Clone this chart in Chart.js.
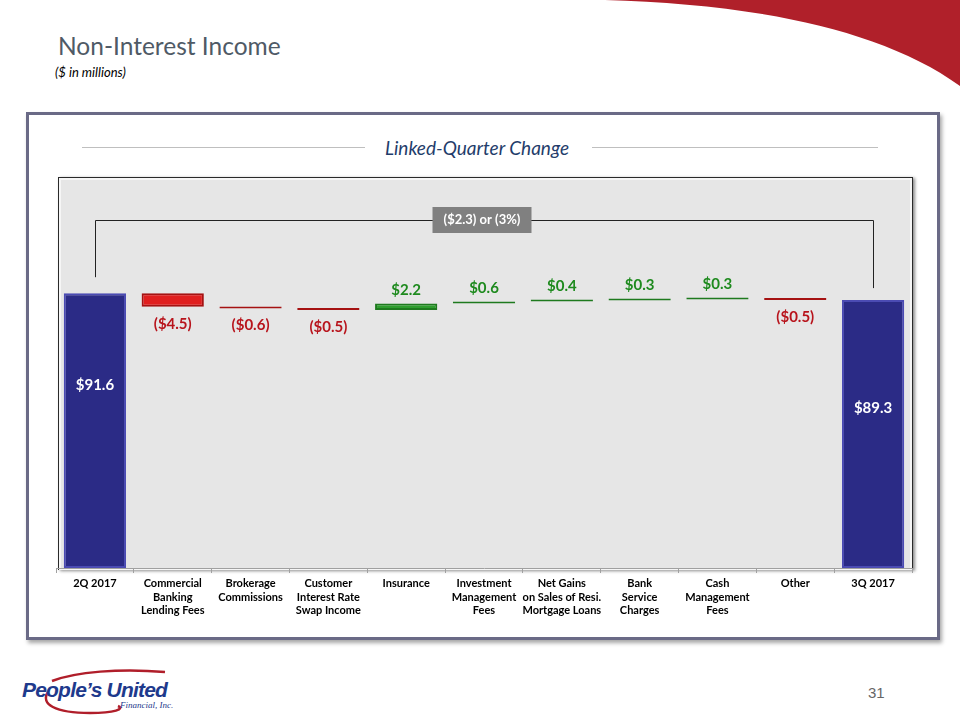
<!DOCTYPE html>
<html><head><meta charset="utf-8">
<script src="https://cdn.jsdelivr.net/npm/chart.js@4"></script>
<style>
html,body{margin:0;padding:0;width:960px;height:720px;overflow:hidden;background:#fff;font-family:Lato,"Open Sans",sans-serif;}
.abs{position:absolute;}
#title{left:58px;top:31px;font-size:24.5px;color:#4F5A66;font-family:Lato;}
#sub{left:55px;top:64px;font-size:13px;font-style:italic;color:#000;}
#panel{left:26px;top:112px;width:908px;height:522px;border:3px solid #6A6A86;box-shadow:2px 3px 4px rgba(0,0,0,0.35);background:#fff;}
#lqc{left:0;top:136px;width:954px;text-align:center;font-size:19px;font-style:italic;color:#1F3D6B;}
.hl{height:1px;background:#BFBFBF;top:147px;}
#gray{left:58px;top:177px;width:853px;height:392px;background:#E6E6E6;border:1px solid #2a2a2a;border-bottom:none;box-shadow:inset 0 0 0 2px #f6f6f6, 2px 1px 3px rgba(0,0,0,0.45);}
#pg{left:868px;top:684px;font-size:15px;color:#666;font-family:"Liberation Sans Narrow","Liberation Sans",sans-serif;}
#logo1{left:22px;top:678px;font-size:21px;font-weight:900;font-style:italic;color:#1E3A8C;letter-spacing:-0.8px;font-family:"Liberation Sans Narrow","Liberation Sans",sans-serif;}
#logo2{left:120px;top:700px;font-size:9px;font-style:italic;color:#1E3A8C;font-family:"Liberation Serif",serif;}
canvas{position:absolute;left:0;top:0;}
</style></head>
<body>
<svg class="abs" style="left:0;top:0" width="960" height="720">
  <path d="M605,0 C750,4 880,28 960,86 L960,0 Z" fill="#B0202A"/>
  <path d="M48,692 C40,704 55,713 90,713 C115,713 125,709 118,706" fill="none" stroke="#B01E2A" stroke-width="2.5"/>
  <path d="M52,681 C75,672 120,668 165,672" fill="none" stroke="#B01E2A" stroke-width="2.5"/>
</svg>
<div class="abs" id="title">Non-Interest Income</div>
<div class="abs" id="sub">($ in millions)</div>
<div class="abs" id="panel"></div>
<div class="abs hl" style="left:82px;width:283px"></div>
<div class="abs hl" style="left:592px;width:286px"></div>
<div class="abs" id="lqc">Linked-Quarter Change</div>
<div class="abs" id="gray"></div>
<div class="abs" id="logo1">People’s United</div>
<div class="abs" id="logo2">Financial, Inc.</div>
<div class="abs" id="pg">31</div>
<canvas id="c" width="960" height="720"></canvas>
<script>
const categories = [
  "2Q 2017",
  ["Commercial","Banking","Lending Fees"],
  ["Brokerage","Commissions"],
  ["Customer","Interest Rate","Swap Income"],
  "Insurance",
  ["Investment","Management","Fees"],
  ["Net Gains","on Sales of Resi.","Mortgage Loans"],
  ["Bank","Service","Charges"],
  ["Cash","Management","Fees"],
  "Other",
  "3Q 2017"
];
const startTotal = 91.6;
const changes = [-4.5, -0.6, -0.5, 2.2, 0.6, 0.4, 0.3, 0.3, -0.5];
const endTotal = 89.3;
const valueLabels = ["$91.6","($4.5)","($0.6)","($0.5)","$2.2","$0.6","$0.4","$0.3","$0.3","($0.5)","$89.3"];
const bracketLabel = "($2.3) or (3%)";

// build floating bars
const floats = [[0, startTotal]];
let run = startTotal;
changes.forEach(c => { const nxt = run + c; floats.push([Math.min(run,nxt), Math.max(run,nxt)]); run = nxt; });
floats.push([0, endTotal]);
const kinds = floats.map((f,i) => i===0||i===floats.length-1 ? 'total' : (changes[i-1] < 0 ? 'neg' : 'pos'));
const fillC = {total:'#2B2B86', neg:'#E01E1E', pos:'#2E9E2E'};
const borderC = {total:'#4B4BB3', neg:'#A51212', pos:'#1E7A1E'};
const textC = {neg:'#B8141C', pos:'#1E8A1E', total:'#FFFFFF'};

const labelPlugin = {
  id:'wfLabels',
  afterDatasetsDraw(chart){
    const ctx = chart.ctx, meta = chart.getDatasetMeta(0), y = chart.scales.y;
    ctx.save();
    ctx.font = 'bold 15px Lato';
    ctx.textAlign = 'center'; ctx.textBaseline = 'middle';
    meta.data.forEach((bar,i) => {
      const k = kinds[i];
      const top = Math.min(bar.y, bar.base), bot = Math.max(bar.y, bar.base);
      let ty;
      if (k==='total') ty = top + (i===0 ? 92 : 108);
      else if (k==='neg') ty = bot + 17;
      else ty = top - 13;
      ctx.fillStyle = textC[k];
      ctx.fillText(valueLabels[i], bar.x, ty);
    });
    // bracket
    const b0 = meta.data[0], b1 = meta.data[meta.data.length-1];
    const yb = y.getPixelForValue(116);
    ctx.strokeStyle = '#222'; ctx.lineWidth = 1;
    ctx.beginPath();
    ctx.moveTo(Math.round(b0.x)+0.5, Math.min(b0.y,b0.base) - 16);
    ctx.lineTo(Math.round(b0.x)+0.5, Math.round(yb)+0.5);
    ctx.lineTo(Math.round(b1.x)+0.5, Math.round(yb)+0.5);
    ctx.lineTo(Math.round(b1.x)+0.5, Math.min(b1.y,b1.base) - 12);
    ctx.stroke();
    const cx = meta.data[5].x - 2;
    ctx.font = 'bold 13px Lato';
    const w = 99, h = 26;
    ctx.fillStyle = '#808080';
    ctx.fillRect(cx - w/2, yb - 13, w, h);
    ctx.fillStyle = '#FFFFFF';
    ctx.fillText(bracketLabel, cx, yb);
    ctx.restore();
  }
};

new Chart(document.getElementById('c'), {
  type:'bar',
  data:{ labels:categories, datasets:[{
    data: floats,
    backgroundColor: kinds.map(k=>fillC[k]),
    borderColor: kinds.map(k=>borderC[k]),
    borderWidth: 2,
    borderSkipped: false,
    minBarLength: 2,
    categoryPercentage: 1.0,
    barPercentage: 0.8
  }]},
  options:{
    responsive:false, animation:false,
    layout:{padding:{left:56, right:48, top:178, bottom:80}},
    plugins:{legend:{display:false}, tooltip:{enabled:false}},
    scales:{
      y:{display:false, min:0, max:130},
      x:{
        afterFit(s){ s.height = 72; },
        grid:{display:true, drawOnChartArea:false, drawTicks:true, tickLength:5, color:'#A0A0A0', offset:true},
        border:{display:true, color:'#A0A0A0'},
        ticks:{color:'#000', padding:3, maxRotation:0, autoSkip:false, font:{family:'Lato', size:11, weight:'bold', lineHeight:1.27}}
      }
    }
  },
  plugins:[labelPlugin]
});
</script>
</body></html>
